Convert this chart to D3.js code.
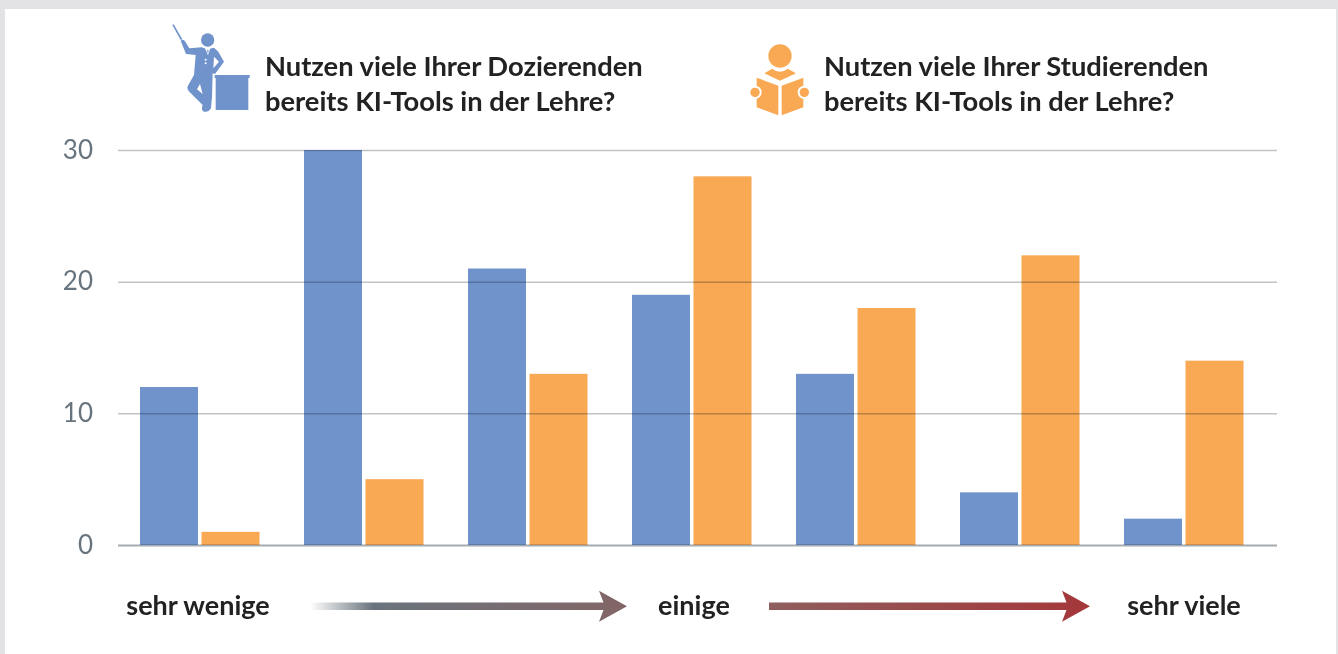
<!DOCTYPE html>
<html lang="de">
<head>
<meta charset="utf-8">
<script src="https://cdn.jsdelivr.net/npm/d3@7"></script>
<style>
  html, body { margin: 0; padding: 0; background: #fff; }
  #chart { display: block; }
  text { font-family: Lato, "Noto Sans", sans-serif; }
</style>
</head>
<body>
<svg id="chart" width="1338" height="654"></svg>
<script>
const categories = ['1', '2', '3', '4', '5', '6', '7'];
const series = ['dozierende', 'studierende'];
const dozierende = [12, 30, 21, 19, 13, 4, 2];
const studierende = [1, 5, 13, 28, 18, 22, 14];
const yTicks = [0, 10, 20, 30];
const titleDoz = ['Nutzen viele Ihrer Dozierenden', 'bereits KI-Tools in der Lehre?'];
const titleStud = ['Nutzen viele Ihrer Studierenden', 'bereits KI-Tools in der Lehre?'];
const scaleLabels = ['sehr wenige', 'einige', 'sehr viele'];

const BLUE = '#7193cc', ORANGE = '#f9a854', TICK = '#67747e', INK = '#222222';

const svg = d3.select('#chart');

// grey frame round the white panel
svg.append('rect').attr('width', 1338).attr('height', 654).attr('fill', '#e3e3e5');
svg.append('rect').attr('x', 5).attr('y', 9).attr('width', 1331).attr('height', 645).attr('fill', '#fff');

const defs = svg.append('defs');
function arrowGradient(id, stops) {
  const g = defs.append('linearGradient').attr('id', id);
  stops.forEach(s => g.append('stop').attr('offset', s[0]).attr('stop-color', s[1]).attr('stop-opacity', s[2]));
}
arrowGradient('fadeIn', [[0, '#6a747d', 0], [0.2, '#6a747d', 1], [1, '#836566', 1]]);
arrowGradient('toRed', [[0, '#8f5e5e', 1], [1, '#a5373a', 1]]);

const x = d3.scaleBand().domain(categories).range([117.5, 1265.5]);
const x1 = d3.scalePoint().domain(series).range([22.5, 84]);
const y = d3.scaleLinear().domain([0, 30]).range([545, 150]);
const barW = 58;

// bars first, the grid runs over them
const groups = svg.append('g').selectAll('g').data(categories).join('g')
  .attr('transform', d => `translate(${x(d)},0)`);
groups.append('rect')
  .attr('x', x1('dozierende')).attr('width', barW)
  .attr('y', (_, i) => y(dozierende[i]))
  .attr('height', (_, i) => y(0) - y(dozierende[i]))
  .attr('fill', BLUE);
groups.append('rect')
  .attr('x', x1('studierende')).attr('width', barW)
  .attr('y', (_, i) => y(studierende[i]))
  .attr('height', (_, i) => y(0) - y(studierende[i]))
  .attr('fill', ORANGE);

const yAxis = d3.axisLeft(y).tickValues(yTicks).tickSize(-1159).tickPadding(25);
const gAxis = svg.append('g').attr('transform', 'translate(118,0)').call(yAxis);
gAxis.select('.domain').remove();
// multiply so the lines go darker where they cross a bar
gAxis.selectAll('line')
  .attr('stroke', d => d === 0 ? '#a6abb0' : '#bfc3c6')
  .attr('stroke-width', d => d === 0 ? 2 : 1.5)
  .style('mix-blend-mode', 'multiply');
gAxis.selectAll('text')
  .attr('fill', TICK)
  .style('font-size', '26px')
  .style('font-family', 'Lato, "Noto Sans", sans-serif');

function title(lines, tx) {
  svg.append('g').selectAll('text').data(lines).join('text')
    .attr('x', tx).attr('y', (_, i) => 76 + i * 35)
    .attr('fill', INK).attr('font-weight', 700).attr('font-size', 27.3)
    .text(d => d);
}
title(titleDoz, 265);
title(titleStud, 824);

// bottom scale labels with arrows
const labelX = [198, 694, 1184];
svg.append('g').selectAll('text').data(scaleLabels).join('text')
  .attr('x', (_, i) => labelX[i]).attr('y', 615)
  .attr('text-anchor', 'middle')
  .attr('fill', INK).attr('font-weight', 700).attr('font-size', 27)
  .text(d => d);

function arrow(x0, x2, fill) {
  const top = 602.5, bot = 610, headX = x2 - 28, cy = 606.3;
  svg.append('path')
    .attr('d', `M${x0},${top}H${headX + 4.5}L${headX},${cy - 15.5}L${x2},${cy}L${headX},${cy + 15.5}L${headX + 4.5},${bot}H${x0}Z`)
    .attr('fill', fill);
}
arrow(310, 627, 'url(#fadeIn)');
arrow(769, 1090, 'url(#toRed)');

// lecturer icon, drawn in a 3x grid
const lect = svg.append('g').attr('transform', 'translate(150,10) scale(0.3333)').attr('fill', BLUE);
lect.append('path').attr('d', 'M67,45L71,43L97,88L92,90Z');
lect.append('circle').attr('cx', 173).attr('cy', 90).attr('r', 20);
lect.append('path').attr('fill-rule', 'evenodd').attr('d', 'M92,92Q100,85 106,95L118,115L155,112L172,118L192,113L205,125L222,155L195,192L188,190L186,260L183,295Q175,308 162,305Q152,300 158,285L118,245Q108,235 115,225L132,195L137,135L108,132Z M150,222L141,238L158,252Z M192,140L207,155L190,175Z');
lect.append('path').attr('fill', '#fff').attr('d', 'M165,115L181,115L174,136Z');
lect.append('path').attr('d', 'M171,120L176,120L174,132Z');
lect.append('circle').attr('cx', 167).attr('cy', 149).attr('r', 3).attr('fill', '#fff');
lect.append('circle').attr('cx', 167).attr('cy', 160).attr('r', 3).attr('fill', '#fff');
lect.append('rect').attr('x', 197).attr('y', 197).attr('width', 98).attr('height', 103);
lect.append('rect').attr('x', 194).attr('y', 195).attr('width', 105).attr('height', 9);

// reader icon, drawn in a 3x grid
const reader = svg.append('g').attr('transform', 'translate(735,30) scale(0.3333)').attr('fill', ORANGE);
reader.append('circle').attr('cx', 135).attr('cy', 78).attr('r', 35);
reader.append('path').attr('d', 'M88,130L112,116Q135,135 158,116L183,130L135,152Z');
reader.append('path').attr('d', 'M65,143L130,167V256L65,232Z');
reader.append('path').attr('d', 'M205,143L140,167V256L205,232Z');
[60, 208].forEach(cx => {
  reader.append('circle').attr('cx', cx).attr('cy', 187).attr('r', 20).attr('fill', '#fff');
  reader.append('circle').attr('cx', cx).attr('cy', 187).attr('r', 14);
});
</script>
</body>
</html>
